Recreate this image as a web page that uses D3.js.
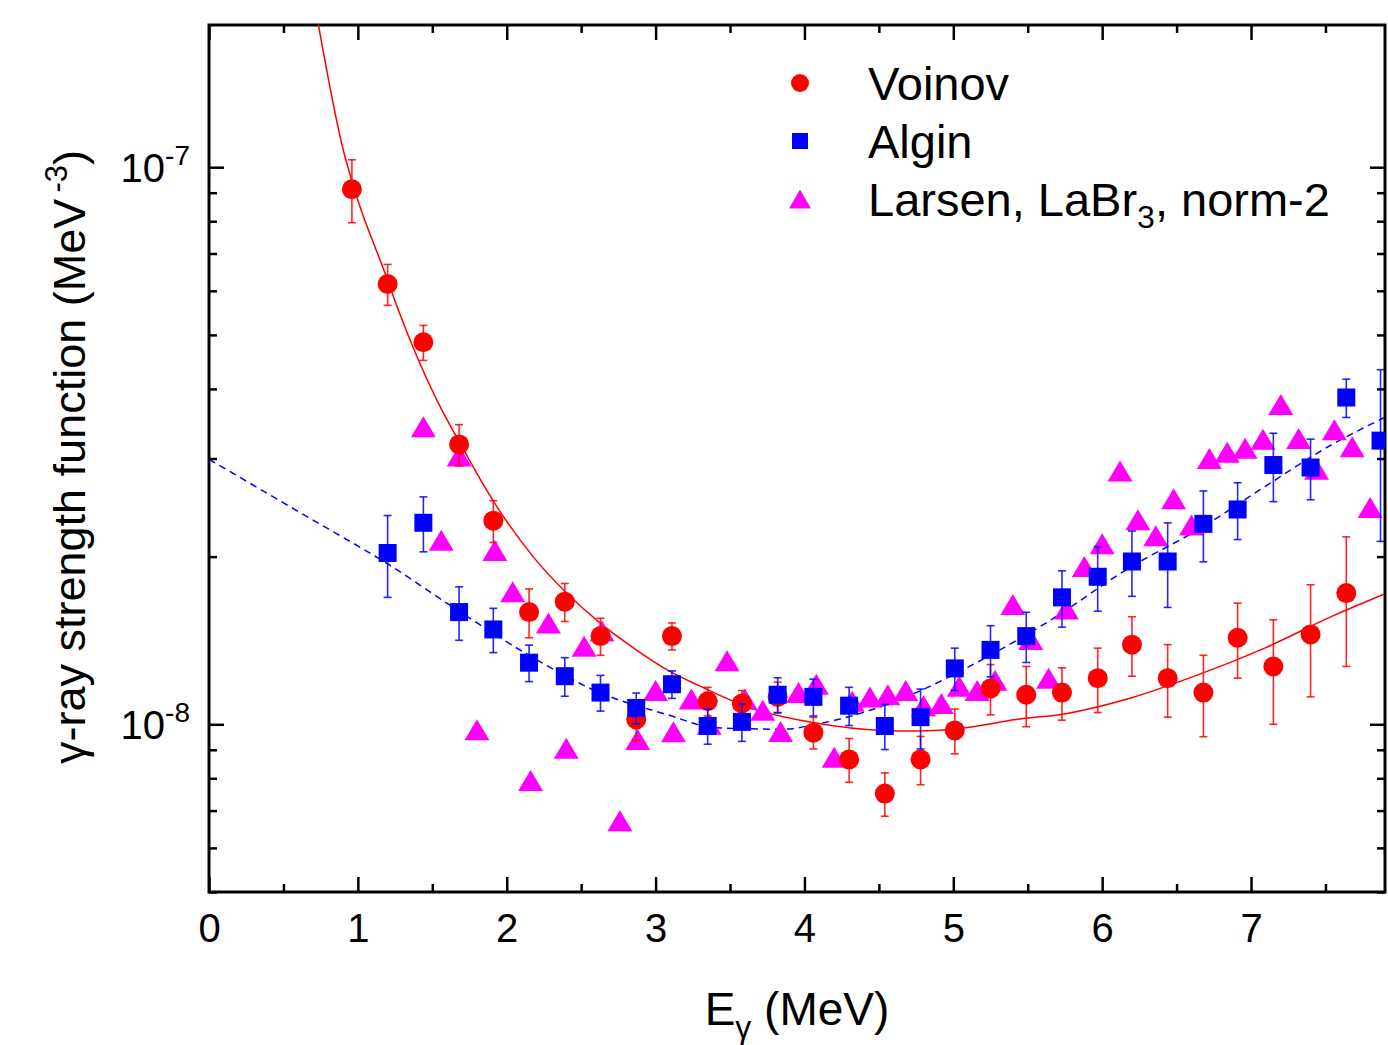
<!DOCTYPE html>
<html>
<head>
<meta charset="utf-8">
<script src="https://cdn.jsdelivr.net/npm/d3@7"></script>
<style>
  body { margin: 0; background: #fff; }
  text { font-family: "Liberation Sans", Arial, Helvetica, sans-serif; fill: #000; }
</style>
</head>
<body>
<svg id="chart" width="1388" height="1045"></svg>
<script>
// ---- Data: gamma-ray strength function (MeV^-3) vs E_gamma (MeV) ----
const voinovE = [0.96, 1.20, 1.44, 1.68, 1.91, 2.15, 2.39, 2.63, 2.87, 3.11, 3.35, 3.58, 3.82, 4.06, 4.30,
                 4.54, 4.78, 5.01, 5.25, 5.49, 5.73, 5.97, 6.20, 6.44, 6.68, 6.91, 7.15, 7.40, 7.64];
const voinovS = [9.13e-8, 6.17e-8, 4.85e-8, 3.18e-8, 2.32e-8, 1.59e-8, 1.66e-8, 1.44e-8, 1.02e-8, 1.44e-8,
                 1.10e-8, 1.09e-8, 1.12e-8, 9.66e-9, 8.65e-9, 7.51e-9, 8.65e-9, 9.75e-9, 1.16e-8, 1.13e-8,
                 1.14e-8, 1.21e-8, 1.39e-8, 1.21e-8, 1.14e-8, 1.43e-8, 1.27e-8, 1.45e-8, 1.72e-8];
const voinovErr = [1.18e-8, 5.2e-9, 3.5e-9, 2.7e-9, 2.0e-9, 1.6e-9, 1.3e-9, 1.1e-9, 8.5e-10, 8.0e-10,
                   6.5e-10, 6.0e-10, 7.0e-10, 6.3e-10, 7.8e-10, 6.7e-10, 8.6e-10, 9.0e-10, 1.2e-9, 1.4e-9,
                   1.23e-9, 1.6e-9, 1.7e-9, 1.8e-9, 1.9e-9, 2.2e-9, 2.7e-9, 3.3e-9, 4.5e-9];

const alginE = [1.20, 1.44, 1.68, 1.91, 2.15, 2.39, 2.63, 2.87, 3.11, 3.35, 3.58, 3.82, 4.06, 4.30, 4.54,
                4.78, 5.01, 5.25, 5.49, 5.73, 5.97, 6.20, 6.44, 6.68, 6.91, 7.15, 7.40, 7.64, 7.87];
const alginS = [2.03e-8, 2.30e-8, 1.59e-8, 1.48e-8, 1.29e-8, 1.22e-8, 1.14e-8, 1.07e-8, 1.18e-8, 9.93e-9,
                1.01e-8, 1.13e-8, 1.12e-8, 1.08e-8, 9.93e-9, 1.03e-8, 1.26e-8, 1.36e-8, 1.44e-8, 1.69e-8,
                1.84e-8, 1.96e-8, 1.96e-8, 2.29e-8, 2.43e-8, 2.92e-8, 2.89e-8, 3.86e-8, 3.23e-8];
const alginErr = [3.4e-9, 2.6e-9, 1.75e-9, 1.35e-9, 9.7e-10, 9.7e-10, 8.4e-10, 6.8e-10, 6.7e-10, 7.2e-10,
                  7.8e-10, 8.2e-10, 8.5e-10, 8.5e-10, 9.2e-10, 1.27e-9, 1.1e-9, 1.43e-9, 1.49e-9, 1.96e-9,
                  2.44e-9, 2.63e-9, 3.39e-9, 3.33e-9, 2.84e-9, 4.1e-9, 3.6e-9, 3.05e-9, 1.10e-8];

const larsenE = [1.44, 1.56, 1.68, 1.80, 1.92, 2.04, 2.16, 2.28, 2.40, 2.52, 2.64, 2.76, 2.88, 3.00,
                 3.12, 3.24, 3.36, 3.48, 3.60, 3.72, 3.84, 3.96, 4.08, 4.20, 4.32, 4.44, 4.56, 4.68,
                 4.80, 4.92, 5.04, 5.16, 5.28, 5.40, 5.52, 5.64, 5.76, 5.88, 6.00, 6.12, 6.24, 6.36,
                 6.48, 6.60, 6.72, 6.84, 6.96, 7.08, 7.20, 7.32, 7.44, 7.56, 7.68, 7.80];
const larsenS = [3.42e-8, 2.14e-8, 3.03e-8, 9.78e-9, 2.05e-8, 1.73e-8, 7.93e-9, 1.52e-8, 9.06e-9, 1.38e-8,
                 1.47e-8, 6.71e-9, 9.39e-9, 1.15e-8, 9.70e-9, 1.11e-8, 1.00e-8, 1.30e-8, 1.11e-8, 1.06e-8,
                 9.71e-9, 1.14e-8, 1.18e-8, 8.73e-9, 1.10e-8, 1.12e-8, 1.13e-8, 1.15e-8, 1.08e-8, 1.09e-8,
                 1.17e-8, 1.15e-8, 1.20e-8, 1.64e-8, 1.42e-8, 1.21e-8, 1.61e-8, 1.92e-8, 2.11e-8, 2.85e-8,
                 2.33e-8, 2.18e-8, 2.54e-8, 2.28e-8, 3.00e-8, 3.08e-8, 3.13e-8, 3.25e-8, 3.75e-8, 3.26e-8,
                 2.87e-8, 3.38e-8, 3.15e-8, 2.45e-8];

// Fitted trend curves
const fitVoinovE = [0.734, 0.901, 0.991, 1.181, 1.270, 1.528, 1.685, 1.908, 2.177, 2.401, 2.624, 2.848, 3.072,
                    3.295, 3.631, 4.056, 4.526, 4.750, 5.085, 5.421, 5.756, 6.203, 6.651, 7.099, 7.546, 7.893];
const fitVoinovS = [1.807e-7, 1.076e-7, 8.88e-8, 6.47e-8, 5.56e-8, 3.83e-8, 3.20e-8, 2.52e-8, 2.00e-8, 1.722e-8,
                    1.522e-8, 1.373e-8, 1.255e-8, 1.172e-8, 1.071e-8, 1.007e-8, 9.75e-9, 9.73e-9, 9.86e-9,
                    1.02e-8, 1.045e-8, 1.117e-8, 1.229e-8, 1.373e-8, 1.564e-8, 1.712e-8];
const fitAlginE = [0, 0.611, 1.203, 1.730, 2.177, 2.624, 3.072, 3.407, 3.854, 4.079, 4.526, 4.750, 5.197,
                   5.633, 6.203, 6.651, 7.099, 7.546, 7.893];
const fitAlginS = [2.99e-8, 2.40e-8, 1.938e-8, 1.564e-8, 1.317e-8, 1.140e-8, 1.042e-8, 9.86e-9, 9.80e-9,
                   1.00e-8, 1.079e-8, 1.140e-8, 1.308e-8, 1.526e-8, 1.924e-8, 2.24e-8, 2.677e-8, 3.18e-8, 3.55e-8];

// Axis ticks
const xMajorTicks = [0, 1, 2, 3, 4, 5, 6, 7];
const xMinorTicks = [0.5, 1.5, 2.5, 3.5, 4.5, 5.5, 6.5, 7.5];
const yMajorTicks = [1e-8, 1e-7];
const yMajorExp = ["-8", "-7"];
const yMinorTicks = [5e-9, 6e-9, 7e-9, 8e-9, 9e-9, 2e-8, 3e-8, 4e-8, 5e-8, 6e-8, 7e-8, 8e-8, 9e-8];

const legendNames = ["Voinov", "Algin", "Larsen, LaBr"];

// ---- Layout ----
const svg = d3.select("#chart");
const pLeft = 209, pRight = 1385, pTop = 25, pBottom = 892;
const x = d3.scaleLinear().domain([0, 7.9]).range([pLeft, pRight]);
const y = d3.scaleLog().domain([5e-9, 1.8e-7]).range([pBottom, pTop]);

const RED = "#ff0000", BLUE = "#0000ff", MAGENTA = "#ff00ff";

svg.append("rect").attr("width", 1388).attr("height", 1045).attr("fill", "#fff");

svg.append("defs").append("clipPath").attr("id", "plotClip")
  .append("rect").attr("x", pLeft).attr("y", pTop).attr("width", pRight - pLeft).attr("height", pBottom - pTop);

// ---- Axes (ticks pointing inward on all four sides) ----
const MAJ = 15, MIN = 8;
function styleAxis(g) {
  g.select(".domain").remove();
  g.selectAll(".tick line").attr("stroke", "#000").attr("stroke-width", 2.5);
}
svg.append("g").attr("transform", `translate(0,${pBottom})`)
  .call(d3.axisBottom(x).tickValues(xMajorTicks).tickSize(-MAJ).tickPadding(22).tickFormat(d3.format("d")))
  .call(styleAxis)
  .call(g => g.selectAll("text").style("font-size", "40px").attr("font-family", null));
svg.append("g").attr("transform", `translate(0,${pBottom})`)
  .call(d3.axisBottom(x).tickValues(xMinorTicks).tickSize(-MIN).tickFormat(""))
  .call(styleAxis);
svg.append("g").attr("transform", `translate(0,${pTop})`)
  .call(d3.axisTop(x).tickValues(xMajorTicks).tickSize(-MAJ).tickFormat(""))
  .call(styleAxis);
svg.append("g").attr("transform", `translate(0,${pTop})`)
  .call(d3.axisTop(x).tickValues(xMinorTicks).tickSize(-MIN).tickFormat(""))
  .call(styleAxis);
svg.append("g").attr("transform", `translate(${pLeft},0)`)
  .call(d3.axisLeft(y).tickValues(yMajorTicks).tickSize(-MAJ).tickFormat(""))
  .call(styleAxis);
svg.append("g").attr("transform", `translate(${pLeft},0)`)
  .call(d3.axisLeft(y).tickValues(yMinorTicks).tickSize(-MIN).tickFormat(""))
  .call(styleAxis);
svg.append("g").attr("transform", `translate(${pRight},0)`)
  .call(d3.axisRight(y).tickValues(yMajorTicks).tickSize(-MAJ).tickFormat(""))
  .call(styleAxis);
svg.append("g").attr("transform", `translate(${pRight},0)`)
  .call(d3.axisRight(y).tickValues(yMinorTicks).tickSize(-MIN).tickFormat(""))
  .call(styleAxis);

// Y tick labels as powers of ten
yMajorTicks.forEach((v, i) => {
  const t = svg.append("text").attr("x", 190).attr("y", y(v) + 15)
    .attr("text-anchor", "end").style("font-size", "40px");
  t.append("tspan").text("10");
  t.append("tspan").attr("dy", -17).style("font-size", "28px").text(yMajorExp[i]);
});

// Frame
svg.append("rect").attr("x", pLeft).attr("y", pTop).attr("width", pRight - pLeft).attr("height", pBottom - pTop)
  .attr("fill", "none").attr("stroke", "#000").attr("stroke-width", 3);

// Axis titles
const xt = svg.append("text").attr("x", 797).attr("y", 1025).attr("text-anchor", "middle").style("font-size", "46px");
xt.append("tspan").text("E");
xt.append("tspan").attr("dy", 13).style("font-size", "32px").text("γ");
xt.append("tspan").attr("dy", -13).text(" (MeV)");

const yt = svg.append("text").attr("transform", "translate(85,457) rotate(-90)")
  .attr("text-anchor", "middle").style("font-size", "45px");
yt.append("tspan").text("γ-ray strength function (MeV");
yt.append("tspan").attr("dy", -18).style("font-size", "31px").text("\u2009-3");
yt.append("tspan").attr("dy", 18).text(")");

// ---- Fit curves ----
const plot = svg.append("g").attr("clip-path", "url(#plotClip)");
const line = d3.line().x(d => x(d[0])).y(d => y(d[1])).curve(d3.curveMonotoneX);
plot.append("path").datum(d3.zip(fitAlginE, fitAlginS)).attr("d", line)
  .attr("fill", "none").attr("stroke", BLUE).attr("stroke-width", 1.5).attr("stroke-dasharray", "7,5");
plot.append("path").datum(d3.zip(fitVoinovE, fitVoinovS)).attr("d", line)
  .attr("fill", "none").attr("stroke", RED).attr("stroke-width", 1.5);

// ---- Markers ----
const triPath = (w, h) => `M0,${-h / 2}L${w / 2},${h / 2}L${-w / 2},${h / 2}Z`;

// Larsen triangles (bottom layer)
plot.append("g").selectAll("path").data(d3.zip(larsenE, larsenS)).join("path")
  .attr("transform", d => `translate(${x(d[0])},${y(d[1])})`)
  .attr("d", triPath(25, 21)).attr("fill", MAGENTA);

function errorBars(g, E, S, Err, color) {
  const data = d3.zip(E, S, Err);
  const eb = g.append("g").attr("stroke", color).attr("stroke-width", 1.6).attr("stroke-opacity", 0.85);
  eb.selectAll("line.v").data(data).join("line").attr("class", "v")
    .attr("x1", d => x(d[0])).attr("x2", d => x(d[0]))
    .attr("y1", d => y(d[1] + d[2])).attr("y2", d => y(d[1] - d[2]));
  eb.selectAll("line.t").data(data).join("line").attr("class", "t")
    .attr("x1", d => x(d[0]) - 4).attr("x2", d => x(d[0]) + 4)
    .attr("y1", d => y(d[1] + d[2])).attr("y2", d => y(d[1] + d[2]));
  eb.selectAll("line.b").data(data).join("line").attr("class", "b")
    .attr("x1", d => x(d[0]) - 4).attr("x2", d => x(d[0]) + 4)
    .attr("y1", d => y(d[1] - d[2])).attr("y2", d => y(d[1] - d[2]));
}

// Voinov circles
const gV = plot.append("g");
errorBars(gV, voinovE, voinovS, voinovErr, RED);
gV.append("g").selectAll("circle").data(d3.zip(voinovE, voinovS)).join("circle")
  .attr("cx", d => x(d[0])).attr("cy", d => y(d[1])).attr("r", 10).attr("fill", RED);

// Algin squares (top layer)
const gA = plot.append("g");
errorBars(gA, alginE, alginS, alginErr, BLUE);
gA.append("g").selectAll("rect").data(d3.zip(alginE, alginS)).join("rect")
  .attr("x", d => x(d[0]) - 9).attr("y", d => y(d[1]) - 9).attr("width", 18).attr("height", 18).attr("fill", BLUE);

// ---- Legend ----
const legend = svg.append("g");
const ly = [83, 141, 199];
legend.append("circle").attr("cx", 800).attr("cy", ly[0]).attr("r", 9).attr("fill", RED);
legend.append("rect").attr("x", 792).attr("y", ly[1] - 8).attr("width", 16).attr("height", 16).attr("fill", BLUE);
legend.append("path").attr("transform", `translate(800,${ly[2]})`).attr("d", triPath(22, 19)).attr("fill", MAGENTA);
legendNames.forEach((name, i) => {
  const t = legend.append("text").attr("x", 868).attr("y", ly[i] + 17).style("font-size", "47px");
  t.append("tspan").text(name);
  if (i === 2) {
    t.append("tspan").attr("dy", 12).style("font-size", "32px").text("3");
    t.append("tspan").attr("dy", -12).text(", norm-2");
  }
});
</script>
</body>
</html>
